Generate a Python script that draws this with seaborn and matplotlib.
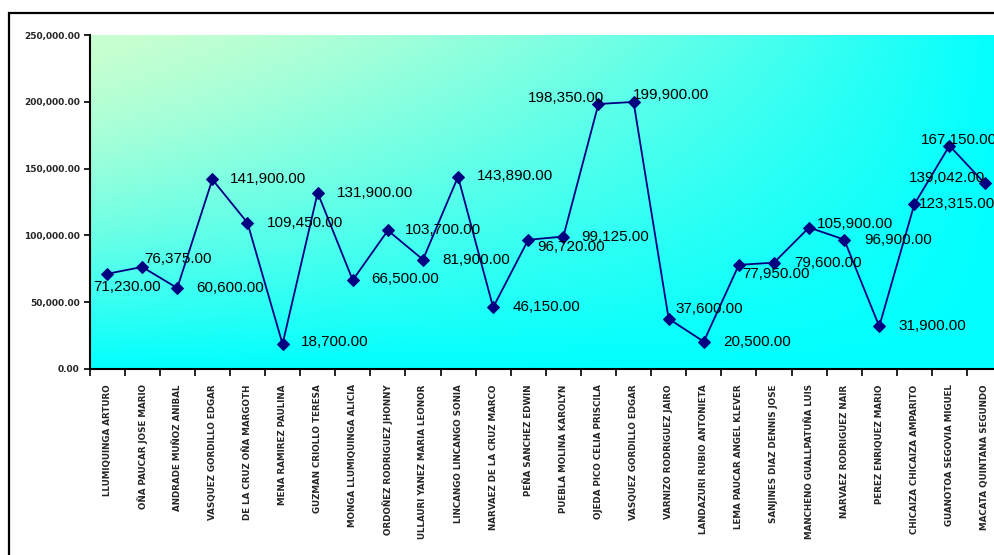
import numpy as np
import pandas as pd
import matplotlib
matplotlib.use("Agg")
import matplotlib.pyplot as plt
from matplotlib.patches import Rectangle
from matplotlib.ticker import FixedLocator, NullFormatter
import seaborn as sns

# ---- data ----
names = [
    "LLUMIQUINGA ARTURO",
    "OÑA PAUCAR JOSE MARIO",
    "ANDRADE MUÑOZ ANIBAL",
    "VASQUEZ GORDILLO EDGAR",
    "DE LA CRUZ OÑA MARGOTH",
    "MENA RAMIREZ PAULINA",
    "GUZMAN CRIOLLO TERESA",
    "MONGA LLUMIQUINGA ALICIA",
    "ORDOÑEZ RODRIGUEZ JHONNY",
    "ULLAURI YANEZ MARIA LEONOR",
    "LINCANGO LINCANGO SONIA",
    "NARVAEZ DE LA CRUZ MARCO",
    "PEÑA SANCHEZ EDWIN",
    "PUEBLA MOLINA KAROLYN",
    "OJEDA PICO CELIA PRISCILA",
    "VASQUEZ GORDILLO EDGAR",
    "VARNIZO RODRIGUEZ JAIRO",
    "LANDAZURI RUBIO ANTONIETA",
    "LEMA PAUCAR ANGEL KLEVER",
    "SANJINES DIAZ DENNIS JOSE",
    "MANCHENO GUALLPATUÑA LUIS",
    "NARVAEZ RODRIGUEZ NAIR",
    "PEREZ ENRIQUEZ MARIO",
    "CHICAIZA CHICAIZA AMPARITO",
    "GUANOTOA SEGOVIA MIGUEL",
    "MACATA QUINTANA SEGUNDO",
]
amounts = [
    71230, 76375, 60600, 141900, 109450, 18700, 131900, 66500, 103700,
    81900, 143890, 46150, 96720, 99125, 198350, 199900, 37600, 20500,
    77950, 79600, 105900, 96900, 31900, 123315, 167150, 139042,
]
y_ticks = [0, 50000, 100000, 150000, 200000, 250000]

# label placement (pixels: left edge from marker, downward shift)
label_offsets = [
    (-14, 13), (2, -8), (19, 0), (18, 0), (19, 0), (18, -2), (19, 0),
    (19, -1), (17, 0), (19, 0), (19, -1), (19, 0), (9, 7), (18, 0),
    (-71, -6), (-1, -7), (7, -10), (19, 0), (3, 9), (20, 0), (8, -4),
    (20, 0), (19, 0), (5, 0), (-29, -6), (-76, -5),
]

df = pd.DataFrame({"pos": np.arange(len(names)), "amount": amounts})

sns.set_theme(style="white")
plt.rcParams["font.family"] = ["Liberation Sans", "DejaVu Sans"]

W, H = 995, 555
fig = plt.figure(figsize=(W / 100, H / 100), dpi=100)
fig.patch.set_facecolor("white")

ax_left, ax_right, ax_top, ax_bottom = 89.5, 1002.1, 35, 369
ax = fig.add_axes([ax_left / W, 1 - ax_bottom / H,
                   (ax_right - ax_left) / W, (ax_bottom - ax_top) / H])

# diagonal gradient background: mint at top-left fading to cyan
nx, ny = 400, 150
xn = np.linspace(0, 1, nx)[None, :]
yn = np.linspace(0, 1, ny)[:, None]
t = (1 - (1 - xn) * (1 - yn)) ** 1.5
c0 = np.array([200, 255, 208]) / 255
c1 = np.array([0, 255, 255]) / 255
grad = c0[None, None, :] * (1 - t[..., None]) + c1[None, None, :] * t[..., None]
ax.imshow(grad, extent=[0, 1, 0, 1], transform=ax.transAxes,
          aspect="auto", zorder=0, interpolation="bilinear")

sns.lineplot(data=df, x="pos", y="amount", ax=ax, color="#000080",
             linewidth=1.3, marker="D", markersize=6.5,
             markeredgecolor="#000080", markerfacecolor="#000080", zorder=3)

ax.set_xlim(-0.5, len(names) - 0.5)
ax.set_ylim(0, 250000)
ax.set_xlabel("")
ax.set_ylabel("")

# y axis
ax.set_yticks(y_ticks)
ax.set_yticklabels([f"{v:,.2f}" for v in y_ticks],
                   fontdict={"family": "DejaVu Sans", "weight": "bold",
                             "size": 6.5})
ax.tick_params(axis="y", which="major", direction="out", length=4,
               width=1.2, color="black", pad=3, left=True)

# x axis: ticks between categories, names centred on each point
ax.xaxis.set_major_locator(FixedLocator(np.arange(-0.5, len(names), 1.0)))
ax.xaxis.set_major_formatter(NullFormatter())
ax.xaxis.set_minor_locator(FixedLocator(np.arange(len(names))))
ax.set_xticks(np.arange(len(names)), labels=names, minor=True)
for lbl in ax.get_xticklabels(minor=True):
    lbl.set_rotation(90)
    lbl.set_family("DejaVu Sans")
    lbl.set_weight("bold")
    lbl.set_fontsize(6.3)
    lbl.set_va("top")
    lbl.set_ha("center")
ax.tick_params(axis="x", which="major", direction="out", length=5,
               width=1.2, color="black", bottom=True)
ax.tick_params(axis="x", which="minor", length=0, pad=11, bottom=True)

for side in ["top", "right"]:
    ax.spines[side].set_visible(False)
for side in ["left", "bottom"]:
    ax.spines[side].set_color("black")
    ax.spines[side].set_linewidth(1.5)

# value labels
for x, v, (dx, dy) in zip(df["pos"], amounts, label_offsets):
    ax.annotate(f"{v:,.2f}", xy=(x, v), xytext=(dx, -dy),
                textcoords="offset pixels", ha="left", va="center",
                fontsize=11, color="black", zorder=4)

# outer chart frame
fig.add_artist(Rectangle((9 / W, -0.2), 1.2, 1.2 - 13 / H,
                         transform=fig.transFigure, fill=False,
                         edgecolor="black", linewidth=1.6))

fig.savefig("out.png", dpi=100)
